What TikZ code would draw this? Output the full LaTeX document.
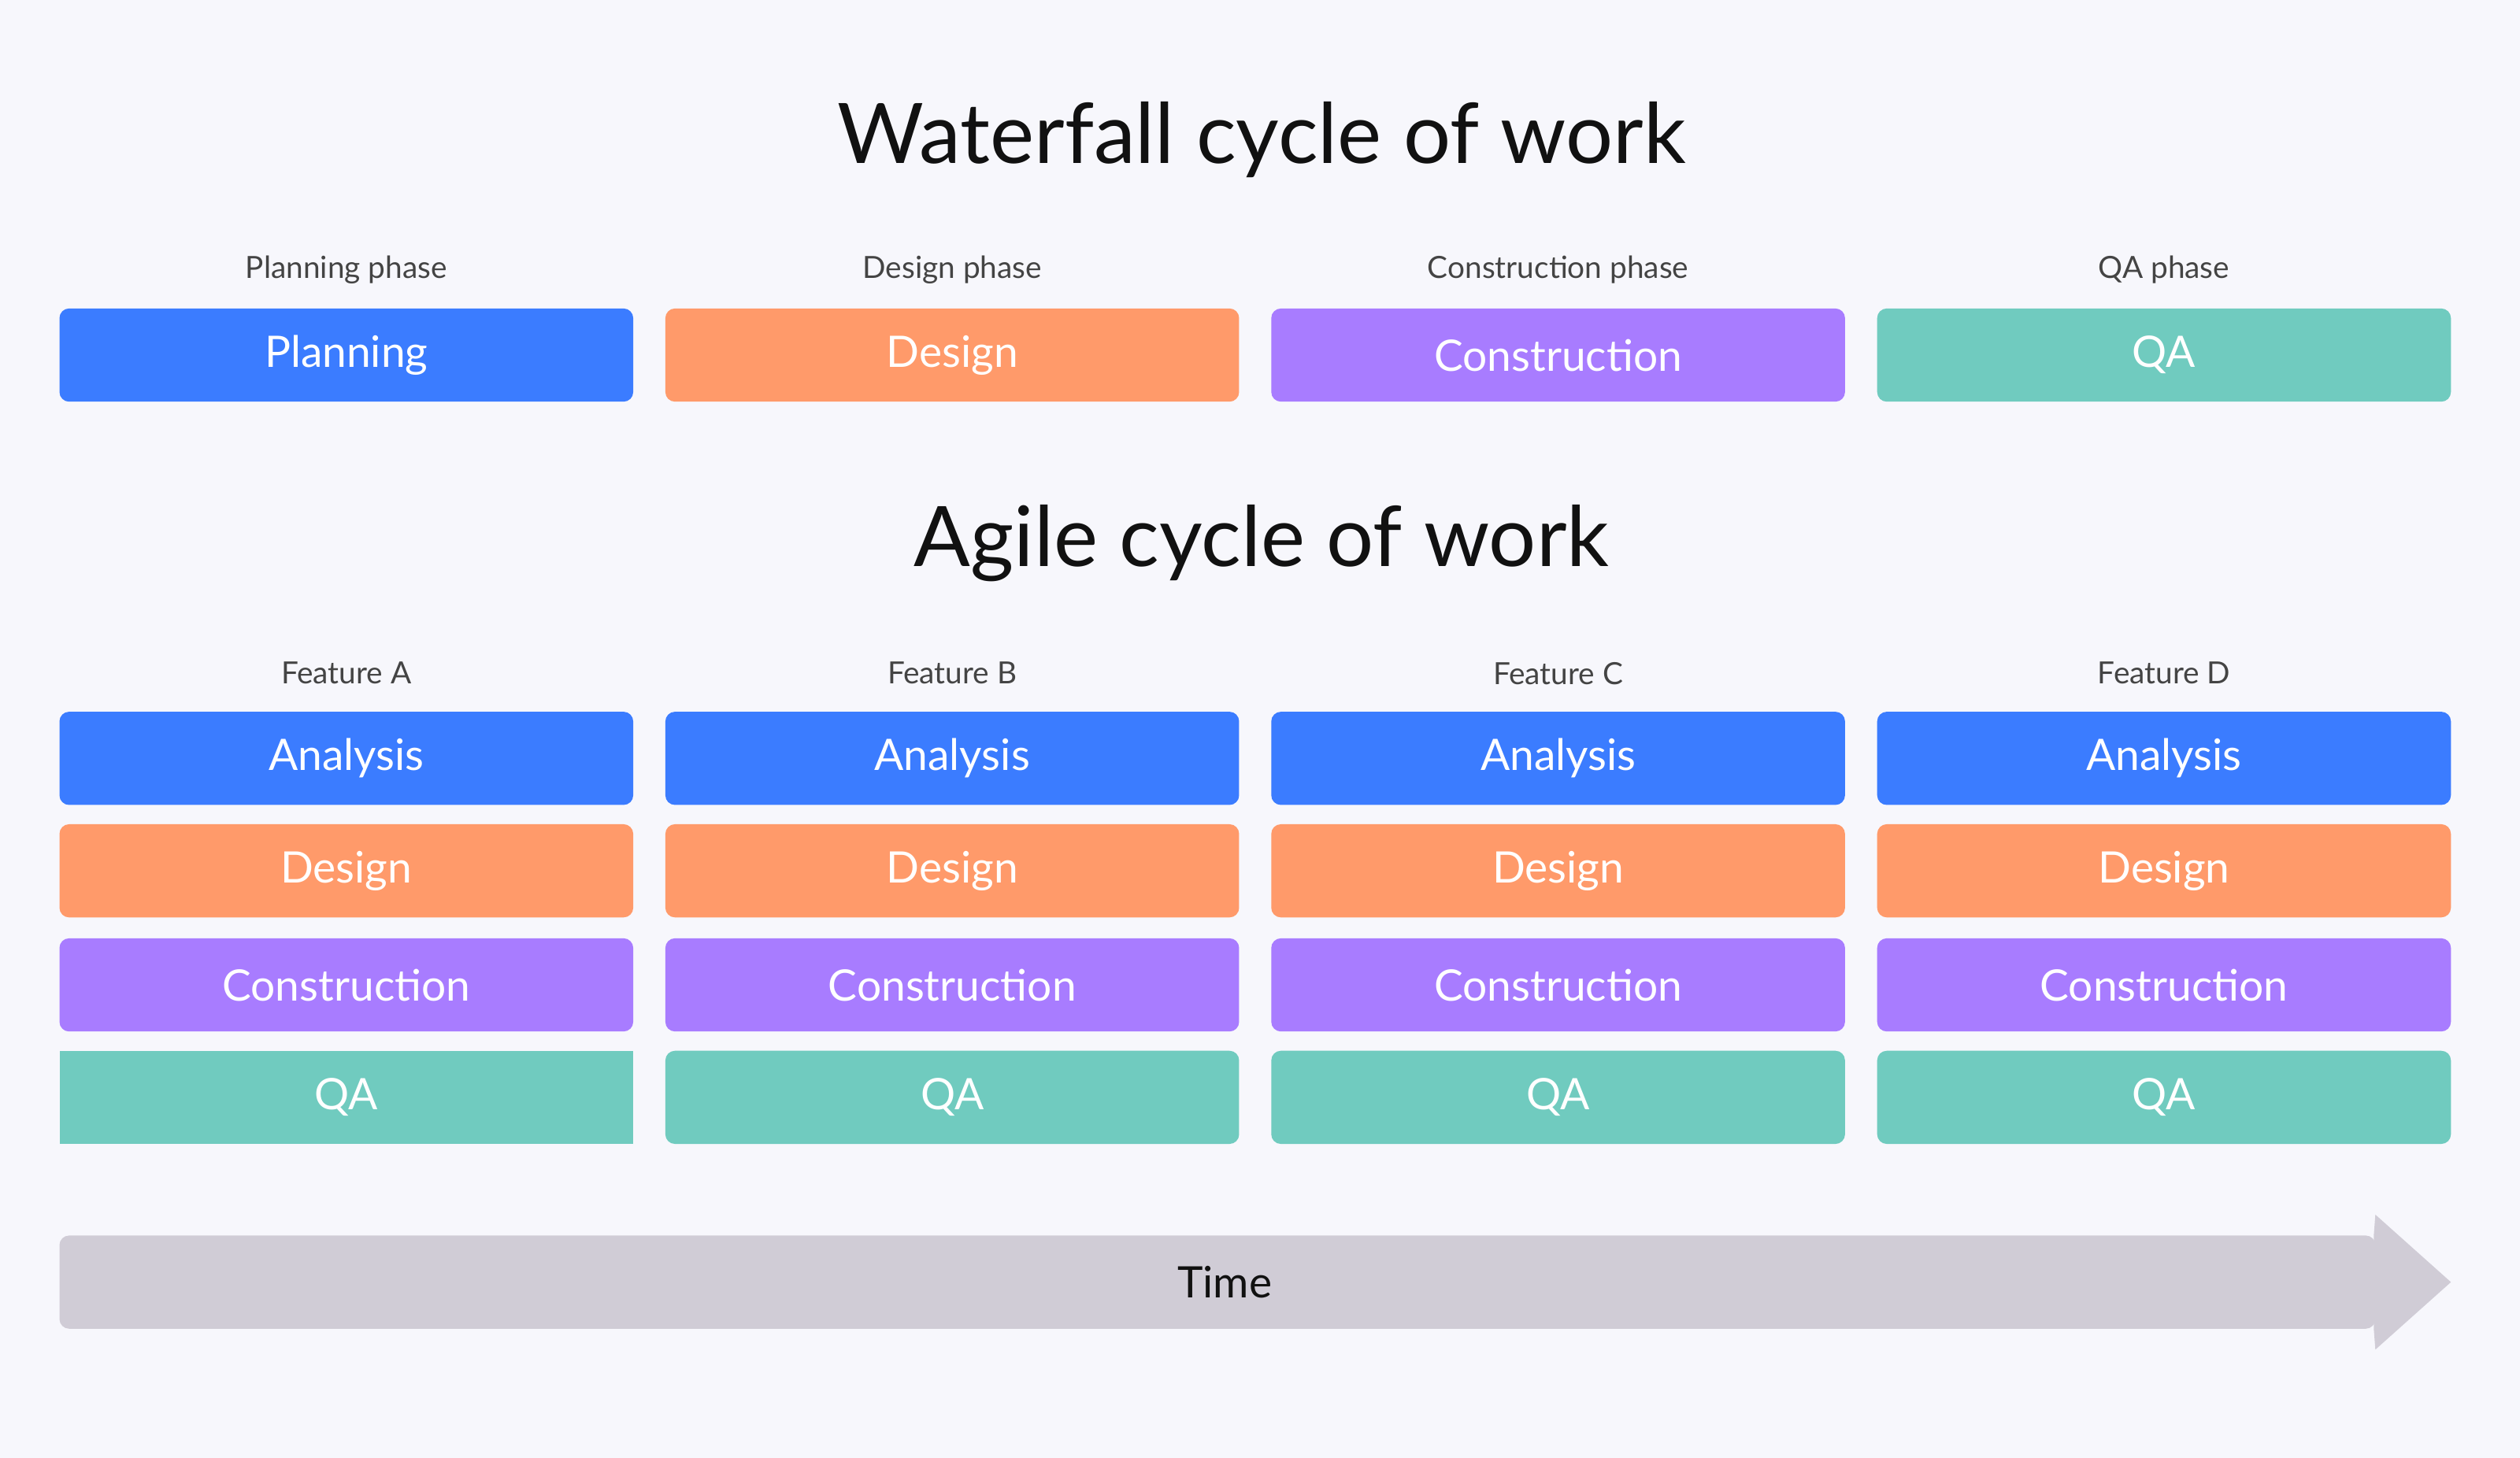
\documentclass[tikz,border=0pt]{standalone}
\usepackage{fontspec}
\setmainfont{Lato}
\definecolor{bg}{HTML}{F7F7FC}
\definecolor{cblue}{HTML}{3B7CFF}
\definecolor{corange}{HTML}{FF9A6A}
\definecolor{cpurple}{HTML}{A87CFF}
\definecolor{cteal}{HTML}{70CBBF}
\definecolor{cgrey}{HTML}{D0CCD6}
\definecolor{ctext}{HTML}{111111}
\definecolor{clabel}{HTML}{444444}
\begin{document}
\begin{tikzpicture}[x=1pt,y=-1pt,
  boxst/.style={rounded corners=6pt,minimum width=357pt,minimum height=58pt,inner sep=0pt,text=white,font=\fontsize{27}{30}\selectfont},
  lbl/.style={text=clabel,font=\fontsize{19}{22}\selectfont},
  ttl/.style={text=ctext,font=\fontsize{52}{58}\selectfont}]
\fill[bg] (0,0) rectangle (1568,907.4);
\useasboundingbox (0,0) rectangle (1568,907.4);
\node[ttl] (t1) at (785,87) {Waterfall cycle of work};
\node[ttl] (t2) at (785,338) {Agile cycle of work};
\foreach \x/\lab/\txt/\c [count=\i] in {215.5/Planning phase/Planning/cblue,592.5/Design phase/Design/corange,969.5/Construction phase/Construction/cpurple,1346.5/QA phase/QA/cteal}{
  \node[lbl] (w\i) at (\x,168) {\lab};
  \node[boxst,fill=\c] (wb\i) at (\x,221) {\txt};
}
\foreach \x/\f [count=\i] in {215.5/A,592.5/B,969.5/C,1346.5/D}{
  \node[lbl] (f\i) at (\x,419) {Feature \f};
  \node[boxst,fill=cblue] (a\i) at (\x,472) {Analysis};
  \node[boxst,fill=corange] (d\i) at (\x,542) {Design};
  \node[boxst,fill=cpurple] (c\i) at (\x,613) {Construction};
}
\node[boxst,fill=cteal,rounded corners=0pt] (q1) at (215.5,683) {QA};
\foreach \x [count=\i from 2] in {592.5,969.5,1346.5}{
  \node[boxst,fill=cteal] (q\i) at (\x,683) {QA};
}
\fill[cgrey,rounded corners=6pt] (37,769) -- (1478,769) -- (1478,827) -- (37,827) -- cycle;
\fill[cgrey] (1477,769) -- (1478,756) -- (1525,798) -- (1478,840) -- (1477,827) -- cycle;
\node[text=ctext,font=\fontsize{27}{30}\selectfont] (time) at (762,798) {Time};
\end{tikzpicture}
\end{document}
